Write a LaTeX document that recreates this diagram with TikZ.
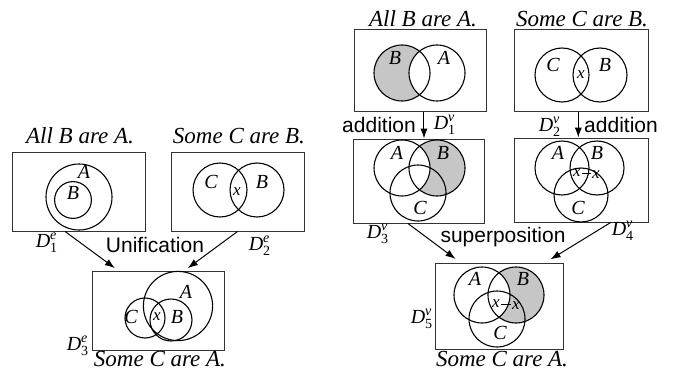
\documentclass[tikz,border=0pt]{standalone}
\usepackage{amsmath}
\usepackage{fontspec}
\setmainfont{Liberation Serif}
\setsansfont{Liberation Sans}
\usetikzlibrary{positioning, arrows.meta, calc}

\newcommand{\dtag}[2]{$\textit{D}^{\textit{#1}}_{\text{#2}}$}

\begin{document}
\begin{tikzpicture}[
  x=0.5pt, y=-0.5pt,
  diag/.style={draw=black!80, line width=0.5pt, rectangle, inner sep=0pt},
  ring/.style={line width=0.55pt},
  shade/.style={fill=gray!45},
  setlbl/.style={font=\fontsize{10}{11}\selectfont\itshape, inner sep=1pt},
  xmark/.style={font=\fontsize{8.5}{9}\selectfont\itshape, inner sep=0.6pt},
  claim/.style={font=\fontsize{11.5}{12}\selectfont\itshape, anchor=base, inner sep=0pt},
  tag/.style={font=\fontsize{10}{11}\selectfont, inner sep=0pt},
  oplbl/.style={font=\sffamily\fontsize{10.5}{11}\selectfont, inner sep=0pt},
  flow/.style={-{Latex[length=5pt,width=3.6pt]}, line width=0.5pt}
]
\useasboundingbox (0,0) rectangle (674,369);

% ===== left: unification =====
\node[claim] (c1e) at (80,143) {All B are A.};
\node[diag, minimum width=66.5pt, minimum height=39.5pt] (d1e) at (78.5,191.5) {};
\draw[ring] (79,197) circle[radius=16.5pt];
\draw[ring] (73,200) circle[radius=9.2pt];
\node[setlbl] (a1e) at (84,172) {A};
\node[setlbl] (b1e) at (73,193) {B};
\node[tag] (t1e) at (47,243) {\dtag{e}{1}};

\node[claim] (c2e) at (239,143) {Some C are B.};
\node[diag, minimum width=66.5pt, minimum height=39.5pt] (d2e) at (237.5,191.5) {};
\draw[ring] (220,190) circle[radius=13.5pt];
\draw[ring] (257,190) circle[radius=13.5pt];
\node[setlbl] (cc2e) at (211,182) {C};
\node[setlbl] (b2e) at (262,182) {B};
\node[xmark] (x2e) at (237,192) {x};
\node[tag] (t2e) at (260,246) {\dtag{e}{2}};

\node[oplbl] (unif) at (155,245) {Unification};

\node[diag, minimum width=66pt, minimum height=39.5pt] (d3e) at (158,310.5) {};
\draw[ring] (178,306) circle[radius=17.3pt];
\draw[ring] (145,318) circle[radius=10pt];
\draw[ring] (171,320) circle[radius=10.5pt];
\node[setlbl] (a3e) at (186,292) {A};
\node[setlbl] (cc3e) at (131,317) {C};
\node[xmark] (x3e) at (157,317) {x};
\node[setlbl] (b3e) at (177,317) {B};
\node[tag] (t3e) at (78,346) {\dtag{e}{3}};
\node[claim] (c3e) at (160,366) {Some C are A.};

\draw[flow, shorten >=2pt] ($(d1e.south west)!0.4!(d1e.south east)$) -- ($(d3e.north west)!0.2!(d3e.north east)$);
\draw[flow, shorten >=2pt] ($(d2e.south west)!0.5!(d2e.south east)$) -- ($(d3e.north west)!0.7!(d3e.north east)$);

% ===== right: addition and superposition =====
\node[claim] (c1v) at (423,27) {All B are A.};
\node[diag, minimum width=66pt, minimum height=41pt] (d1v) at (420,71) {};
\begin{scope}
  \clip (402,73) circle[radius=14pt];
  \fill[shade] (402,73) circle[radius=14pt];
  \fill[white] (437,73) circle[radius=14pt];
\end{scope}
\draw[ring] (402,73) circle[radius=14pt];
\draw[ring] (437,73) circle[radius=14pt];
\node[setlbl] (b1v) at (395,58) {B};
\node[setlbl] (a1v) at (444,58) {A};

\node[claim] (c2v) at (582,27) {Some C are B.};
\node[diag, minimum width=67pt, minimum height=41pt] (d2v) at (581,71) {};
\draw[ring] (562,75) circle[radius=13.5pt];
\draw[ring] (600,75) circle[radius=13.5pt];
\node[setlbl] (cc2v) at (553,65) {C};
\node[setlbl] (b2v) at (605,65) {B};
\node[xmark] (x2v) at (581,75) {x};

\node[diag, minimum width=65.5pt, minimum height=42pt] (d3v) at (418.5,181) {};
\begin{scope}
  \clip (437,168) circle[radius=14pt];
  \fill[shade] (437,168) circle[radius=14pt];
  \fill[white] (402,168) circle[radius=14pt];
\end{scope}
\draw[ring] (402,168) circle[radius=14pt];
\draw[ring] (437,168) circle[radius=14pt];
\draw[ring] (418,193) circle[radius=14pt];
\node[setlbl] (a3v) at (397,153) {A};
\node[setlbl] (b3v) at (443,153) {B};
\node[setlbl] (cc3v) at (420,208) {C};

\node[diag, minimum width=67pt, minimum height=42pt] (d4v) at (581,180) {};
\draw[ring] (562,168) circle[radius=13.5pt];
\draw[ring] (597,168) circle[radius=13.5pt];
\draw[ring] (581,195) circle[radius=13.5pt];
\node[setlbl] (a4v) at (558,153) {A};
\node[setlbl] (b4v) at (597,153) {B};
\node[setlbl] (cc4v) at (578,208) {C};
\node[xmark] (xa4v) at (577,173) {x};
\node[xmark] (xb4v) at (596,175) {x};
\draw[line width=0.5pt] (xa4v.east) -- (xa4v.east -| xb4v.west);

\draw[flow] ($(d1v.south west)!0.53!(d1v.south east)$) -- (d3v.north west -| {$(d1v.south west)!0.53!(d1v.south east)$});
\node[oplbl] (add1) at (379,125) {addition};
\node[tag] (t1v) at (445,125) {\dtag{v}{1}};
\draw[flow] ($(d2v.south west)!0.48!(d2v.south east)$) -- (d4v.north west -| {$(d2v.south west)!0.48!(d2v.south east)$});
\node[tag] (t2v) at (550,127) {\dtag{v}{2}};
\node[oplbl] (add2) at (621,125) {addition};

\node[tag] (t3v) at (378,234) {\dtag{v}{3}};
\node[oplbl] (sup) at (503,237) {superposition};
\node[tag] (t4v) at (623,231) {\dtag{v}{4}};

\node[diag, minimum width=64pt, minimum height=43pt] (d5v) at (499,306) {};
\begin{scope}
  \clip (516,295) circle[radius=14pt];
  \fill[shade] (516,295) circle[radius=14pt];
  \fill[white] (482,295) circle[radius=14pt];
\end{scope}
\draw[ring] (482,295) circle[radius=14pt];
\draw[ring] (516,295) circle[radius=14pt];
\draw[ring] (497,319) circle[radius=14pt];
\node[setlbl] (a5v) at (475,279) {A};
\node[setlbl] (b5v) at (523,279) {B};
\node[setlbl] (cc5v) at (500,333) {C};
\node[xmark] (xa5v) at (496,304) {x};
\node[xmark] (xb5v) at (516,306) {x};
\draw[line width=0.5pt] (xa5v.east) -- (xa5v.east -| xb5v.west);
\node[tag] (t5v) at (422,319) {\dtag{v}{5}};
\node[claim] (c5v) at (502,366) {Some C are A.};

\draw[flow, shorten >=3pt] ($(d3v.south west)!0.42!(d3v.south east)$) -- ($(d5v.north west)!0.2!(d5v.north east)$);
\draw[flow, shorten >=3pt] ($(d4v.south west)!0.72!(d4v.south east)$) -- ($(d5v.north west)!0.86!(d5v.north east)$);
\end{tikzpicture}
\end{document}
